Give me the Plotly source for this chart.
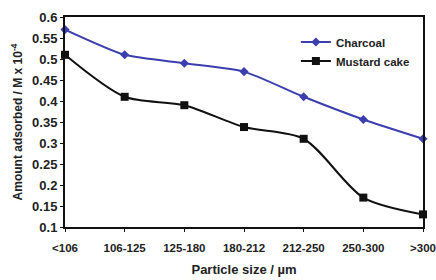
import plotly.graph_objects as go

categories = ["<106", "106-125", "125-180", "180-212", "212-250", "250-300", ">300"]
charcoal = [0.57, 0.51, 0.49, 0.47, 0.41, 0.356, 0.31]
mustard = [0.51, 0.41, 0.39, 0.338, 0.31, 0.17, 0.13]
y_ticks = [0.1, 0.15, 0.2, 0.25, 0.3, 0.35, 0.4, 0.45, 0.5, 0.55, 0.6]
y_ticklabels = ["0.1", "0.15", "0.2", "0.25", "0.3", "0.35", "0.4", "0.45", "0.5", "0.55", "0.6"]

font_family = "Liberation Sans, Arial, sans-serif"

fig = go.Figure()
fig.add_trace(go.Scatter(
    x=categories, y=charcoal, name="<b>Charcoal</b>", mode="lines+markers",
    line=dict(color="#3b3fae", width=2, shape="spline", smoothing=0.6),
    marker=dict(symbol="diamond", size=7, color="#3b3fae"),
    cliponaxis=False,
))
fig.add_trace(go.Scatter(
    x=categories, y=mustard, name="<b>Mustard cake</b>", mode="lines+markers",
    line=dict(color="#111111", width=2, shape="spline", smoothing=0.8),
    marker=dict(symbol="square", size=8, color="#111111"),
    cliponaxis=False,
))

fig.update_layout(
    width=436, height=280,
    margin=dict(l=65, r=13, t=17, b=53, pad=0, autoexpand=False),
    paper_bgcolor="white", plot_bgcolor="white",
    font=dict(family=font_family, color="#222222", size=10),
    showlegend=True,
    legend=dict(
        x=0.645, y=0.95, xanchor="left", yanchor="top",
        bgcolor="rgba(255,255,255,0)", borderwidth=0,
        font=dict(size=11.5, family=font_family, color="#222222"),
        itemwidth=30, tracegroupgap=2,
    ),
    xaxis=dict(
        type="category", range=[0, 6],
        tickvals=categories, ticktext=["<b>%s</b>" % c.replace("<", "&lt;") for c in categories],
        showline=True, linecolor="#111111", linewidth=2, mirror=True,
        showgrid=False, zeroline=False,
        ticks="outside", ticklen=3, tickcolor="#111111",
        ticklabelstandoff=6,
        tickfont=dict(size=11.5, family=font_family),
        title=dict(text="<b>Particle size / µm</b>", font=dict(size=13, family=font_family), standoff=12),
        automargin=False,
    ),
    yaxis=dict(
        range=[0.1, 0.6], tickvals=y_ticks, ticktext=["<b>%s</b>" % t for t in y_ticklabels],
        showline=True, linecolor="#111111", linewidth=2, mirror=True,
        showgrid=False, zeroline=False,
        ticks="outside", ticklen=3, tickcolor="#111111",
        tickfont=dict(size=13, family=font_family),
        title=dict(text="<b>Amount adsorbed / M x 10<sup>-4</sup></b>", font=dict(size=12, family=font_family), standoff=7),
        automargin=False,
    ),
)

fig.write_html(
    "out.html",
    config={"displayModeBar": False, "staticPlot": True},
    post_script="document.body.style.margin='0';document.body.style.overflow='hidden';",
)
